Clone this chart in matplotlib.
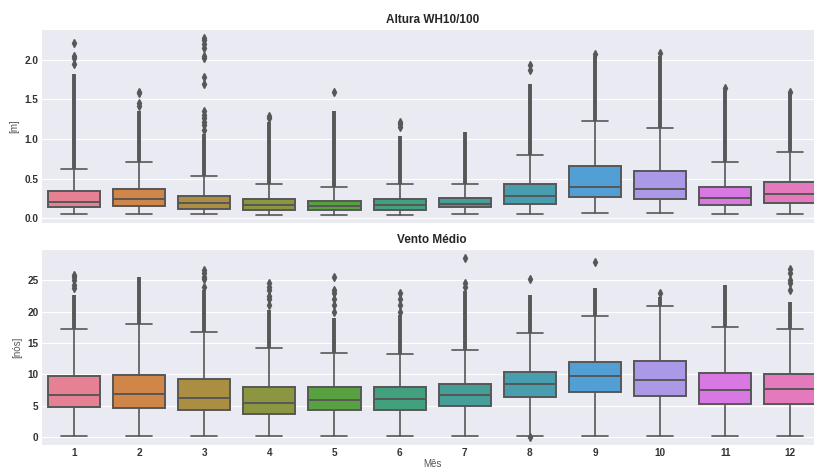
import matplotlib
matplotlib.use('Agg')
import matplotlib.pyplot as plt
import seaborn as sns

sns.set_style('darkgrid')
plt.rcParams['font.family'] = ['Liberation Sans', 'DejaVu Sans']

meses = [1, 2, 3, 4, 5, 6, 7, 8, 9, 10, 11, 12]

# Altura WH10/100 [m]
alt_q1 = [0.14, 0.16, 0.118, 0.105, 0.105, 0.105, 0.139, 0.18, 0.274, 0.244, 0.173, 0.194]
alt_med = [0.206, 0.24, 0.19, 0.168, 0.156, 0.164, 0.18, 0.278, 0.396, 0.37, 0.257, 0.303]
alt_q3 = [0.34, 0.375, 0.286, 0.244, 0.223, 0.24, 0.257, 0.434, 0.657, 0.60, 0.391, 0.455]
alt_wlo = [0.059, 0.059, 0.059, 0.046, 0.046, 0.046, 0.059, 0.059, 0.072, 0.072, 0.059, 0.059]
alt_whi = [0.623, 0.707, 0.539, 0.438, 0.391, 0.429, 0.438, 0.80, 1.233, 1.14, 0.716, 0.842]
alt_denso = [1.82, 1.35, 1.07, 1.22, 1.36, 1.04, 1.09, 1.70, 2.05, 2.05, 1.62, 1.58]
alt_extra = [
    [1.95, 2.02, 2.05, 2.21],
    [1.42, 1.45, 1.58, 1.60],
    [1.12, 1.18, 1.22, 1.26, 1.31, 1.36, 1.70, 1.78, 2.02, 2.05, 2.15, 2.20, 2.25, 2.28],
    [1.26, 1.29],
    [1.60],
    [1.15, 1.19, 1.22],
    [],
    [1.87, 1.93],
    [2.07],
    [2.09],
    [1.65],
    [1.60],
]

# Vento Médio [nós]
ven_q1 = [4.75, 4.59, 4.22, 3.69, 4.22, 4.33, 4.97, 6.3, 7.21, 6.46, 5.29, 5.29]
ven_med = [6.73, 6.89, 6.25, 5.45, 5.82, 5.98, 6.68, 8.39, 9.72, 9.03, 7.53, 7.69]
ven_q3 = [9.67, 9.88, 9.24, 7.96, 7.96, 7.96, 8.49, 10.42, 12.02, 12.18, 10.15, 10.04]
ven_wlo = [0.1, 0.2, 0.2, 0.1, 0.1, 0.1, 0.1, 0.2, 0.2, 0.2, 0.2, 0.2]
ven_whi = [17.25, 18.06, 16.72, 14.2, 13.4, 13.25, 13.8, 16.56, 19.23, 20.83, 17.47, 17.25]
ven_denso = [22.6, 25.5, 23.5, 20.3, 19.0, 19.5, 23.3, 22.6, 23.7, 22.3, 24.3, 21.5]
ven_extra = [
    [23.8, 24.3, 25.0, 25.5, 25.9],
    [],
    [24.0, 25.2, 25.6, 26.2, 26.6],
    [21.0, 22.0, 22.5, 23.5, 24.0, 24.5],
    [20.0, 21.0, 22.0, 23.0, 23.5, 25.6],
    [20.0, 21.0, 22.0, 23.0],
    [24.0, 24.6, 28.5],
    [0.0, 25.2],
    [28.0],
    [23.0],
    [],
    [23.5, 24.5, 25.0, 26.2, 26.8],
]

# seaborn-like colours
cores = sns.color_palette('husl', 12)
cores = [sns.desaturate(c, 0.75) for c in cores]
cinza = '#575757'


def caixas(ax, q1, med, q3, wlo, whi, denso, extra, titulo, ylabel):
    stats = []
    for i in range(len(meses)):
        stats.append(dict(q1=q1[i], med=med[i], q3=q3[i], whislo=wlo[i],
                          whishi=whi[i], fliers=extra[i]))
    pos = list(range(len(meses)))
    bp = ax.bxp(stats, positions=pos, widths=0.8, patch_artist=True,
                showfliers=True,
                boxprops=dict(edgecolor=cinza, linewidth=1.4),
                medianprops=dict(color=cinza, linewidth=1.4),
                whiskerprops=dict(color=cinza, linewidth=1.2),
                capprops=dict(color=cinza, linewidth=1.2),
                flierprops=dict(marker='d', markerfacecolor=cinza,
                                markeredgecolor=cinza, markersize=3.8))
    for patch, c in zip(bp['boxes'], cores):
        patch.set_facecolor(c)
    # dense columns of outliers
    ax.vlines(pos, whi, denso, color=cinza, linewidth=2.8, zorder=3)
    ax.set_xlim(-0.5, len(meses) - 0.5)
    ax.set_xticks(pos)
    ax.set_xticklabels([str(m) for m in meses])
    ax.grid(axis='x', visible=False)
    ax.set_title(titulo, fontsize=8.5, fontweight='bold', pad=4)
    ax.set_ylabel(ylabel, fontsize=7, color='#555555', labelpad=4)
    ax.tick_params(axis='both', labelsize=7.2, pad=2, length=0)
    for t in ax.get_xticklabels() + ax.get_yticklabels():
        t.set_fontweight('bold')
        t.set_color('#333333')


fig = plt.figure(figsize=(8.14, 4.68), dpi=100)
ax1 = fig.add_axes([0.0509, 0.5235, 0.960, 0.4145])
ax2 = fig.add_axes([0.0509, 0.0491, 0.960, 0.4188])

caixas(ax1, alt_q1, alt_med, alt_q3, alt_wlo, alt_whi, alt_denso, alt_extra,
       'Altura WH10/100', '[m]')
ax1.set_xticklabels([])
ax1.set_yticks([0.0, 0.5, 1.0, 1.5, 2.0])
ax1.set_ylim(-0.06, 2.39)

caixas(ax2, ven_q1, ven_med, ven_q3, ven_wlo, ven_whi, ven_denso, ven_extra,
       'Vento Médio', '[nós]')
ax2.set_yticks([0, 5, 10, 15, 20, 25])
ax2.set_ylim(-1.3, 30.0)
ax2.set_xlabel('Mês', fontsize=7, color='#555555', labelpad=1)

fig.savefig('out.png', dpi=100)
